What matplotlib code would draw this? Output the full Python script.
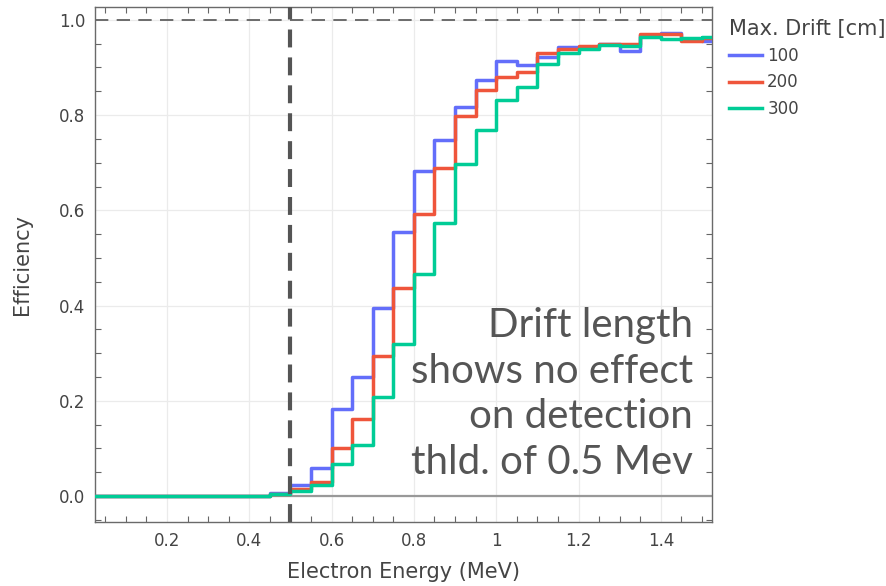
import matplotlib
matplotlib.use("Agg")
import matplotlib.pyplot as plt
import numpy as np
from matplotlib.ticker import MultipleLocator, FuncFormatter

# bin centres of the energy histogram (MeV), 0.05 wide
energy = [0.025, 0.075, 0.125, 0.175, 0.225, 0.275, 0.325, 0.375, 0.425,
          0.475, 0.525, 0.575, 0.625, 0.675, 0.725, 0.775, 0.825, 0.875,
          0.925, 0.975, 1.025, 1.075, 1.125, 1.175, 1.225, 1.275, 1.325,
          1.375, 1.425, 1.475, 1.525]

eff_100 = [0, 0, 0, 0, 0, 0, 0, 0, 0,
           0.006, 0.024, 0.059, 0.182, 0.249, 0.394, 0.555, 0.682, 0.748,
           0.818, 0.873, 0.913, 0.906, 0.922, 0.942, 0.944, 0.950, 0.934,
           0.969, 0.973, 0.960, 0.955]
eff_200 = [0, 0, 0, 0, 0, 0, 0, 0, 0,
           0.005, 0.015, 0.030, 0.101, 0.161, 0.293, 0.436, 0.593, 0.689,
           0.799, 0.852, 0.880, 0.890, 0.930, 0.939, 0.946, 0.950, 0.950,
           0.970, 0.970, 0.955, 0.962]
eff_300 = [0, 0, 0, 0, 0, 0, 0, 0, 0,
           0.004, 0.010, 0.022, 0.067, 0.108, 0.207, 0.320, 0.467, 0.574,
           0.697, 0.769, 0.831, 0.859, 0.907, 0.930, 0.938, 0.948, 0.946,
           0.964, 0.960, 0.962, 0.965]

drifts = ["100", "200", "300"]
colors = ["#636EFA", "#EF553B", "#00CC96"]
threshold = 0.5

fig = plt.figure(figsize=(8.87, 5.86), dpi=100)
ax = fig.add_axes([0.107, 0.109, 0.696, 0.879])

ax.axhline(0, color="#999999", lw=1.6, zorder=1)
for eff, lab, c in zip([eff_100, eff_200, eff_300], drifts, colors):
    ax.step(energy, eff, where="mid", color=c, lw=2.5, label=lab, zorder=3)

ax.axhline(1.0, color="#555555", lw=1.2, ls=(0, (8, 5)), zorder=2)
ax.axvline(threshold, color="#555555", lw=3.0, ls=(0, (4.3, 2.4)), zorder=4)

ax.set_xlim(0.025, 1.525)
ax.set_ylim(-0.055, 1.027)

ax.xaxis.set_major_locator(MultipleLocator(0.2))
ax.xaxis.set_minor_locator(MultipleLocator(0.05))
ax.yaxis.set_major_locator(MultipleLocator(0.2))
ax.yaxis.set_minor_locator(MultipleLocator(0.05))
ax.xaxis.set_major_formatter(FuncFormatter(lambda v, p: "1" if abs(v - 1) < 1e-9 else f"{v:.1f}"))
ax.yaxis.set_major_formatter(FuncFormatter(lambda v, p: f"{v:.1f}"))

ax.grid(True, which="major", color="#ebebeb", lw=0.9)
ax.set_axisbelow(True)
ax.tick_params(which="major", length=0, labelsize=12, colors="#444444", pad=7)
ax.tick_params(which="minor", direction="in", length=4, width=0.8, color="#666666",
               top=True, right=True)
for s in ax.spines.values():
    s.set_color("#6a6a6a")
    s.set_linewidth(1.0)

ax.set_xlabel("Electron Energy (MeV)", fontsize=15, color="#444444", labelpad=9)
ax.set_ylabel("Efficiency", fontsize=15, color="#444444", labelpad=19)

ax.text(0.969, 0.249, "Drift length\nshows no effect\non detection\nthld. of 0.5 Mev",
        transform=ax.transAxes, ha="right", va="center", fontsize=29,
        family=["Lato", "DejaVu Sans"], color="#555555", linespacing=1.29, zorder=5)

leg = ax.legend(title="Max. Drift [cm]", loc="upper left", bbox_to_anchor=(1.008, 1.0),
                frameon=False, fontsize=12, title_fontsize=15, handlelength=2.0,
                handletextpad=0.3, labelspacing=0.5, borderaxespad=0.3)
leg._legend_box.align = "left"
for t in leg.get_texts():
    t.set_color("#444444")
leg.get_title().set_color("#444444")

fig.savefig("out.png", dpi=100)
